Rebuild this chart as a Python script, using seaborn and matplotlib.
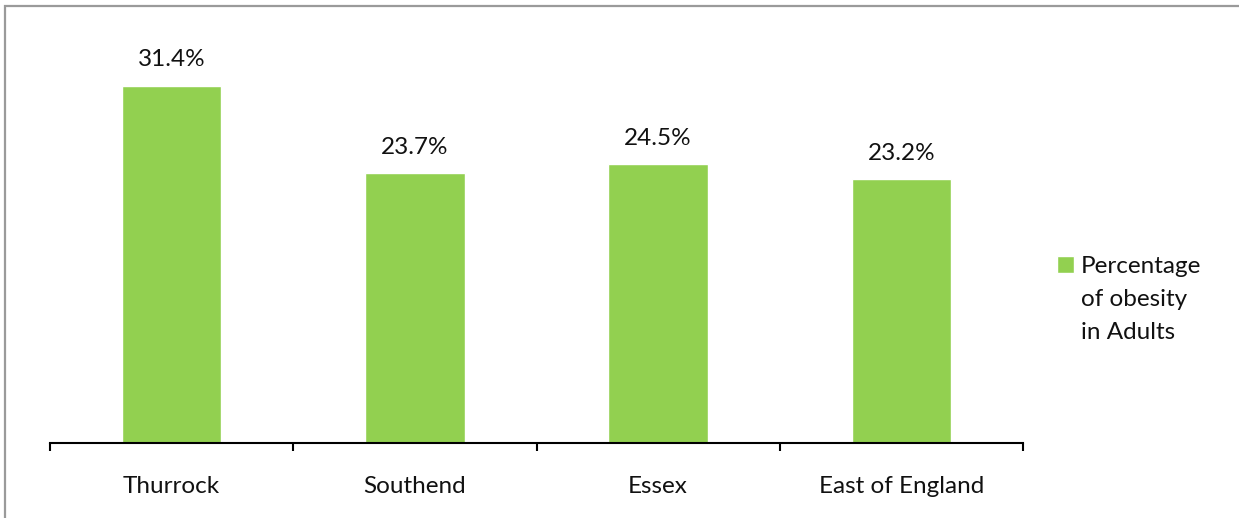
import matplotlib
matplotlib.use("Agg")
import matplotlib.pyplot as plt
import matplotlib.patches as mpatches
import seaborn as sns
import pandas as pd
import numpy as np

# Adult obesity by area
areas = ["Thurrock", "Southend", "Essex", "East of England"]
obesity_pct = [31.4, 23.7, 24.5, 23.2]
series_name = "Percentage\nof obesity\nin Adults"

BAR_GREEN = "#92D050"
TEXT = "#111111"
FS = 17.5

sns.set_theme(style="white")
plt.rcParams["font.family"] = ["Lato", "DejaVu Sans"]

df = pd.DataFrame({"area": areas, "pct": obesity_pct, "series": series_name})

fig = plt.figure(figsize=(12.39, 5.18), dpi=100)
ax = fig.add_axes([50 / 1239, 75 / 518, 973 / 1239, 398 / 518])

sns.barplot(data=df, x="area", y="pct", hue="series", palette=[BAR_GREEN],
            width=0.41, saturation=1, ax=ax, legend=True)

ax.set_xlim(-0.5, len(areas) - 0.5)
ax.set_ylim(0, 35)
ax.set_xlabel("")
ax.set_ylabel("")
ax.set_yticks([])

for s in ["top", "right", "left"]:
    ax.spines[s].set_visible(False)
ax.spines["bottom"].set_color("black")
ax.spines["bottom"].set_linewidth(1.5)

# category labels centred, tick marks on category boundaries
ax.set_xticks(range(len(areas)))
ax.set_xticklabels(areas, fontsize=FS, color=TEXT)
ax.tick_params(axis="x", which="major", length=0, pad=23.5)
ax.set_xticks(np.arange(-0.5, len(areas), 1.0), minor=True)
ax.tick_params(axis="x", which="minor", length=6, width=1.5, color="black",
               direction="out", bottom=True)

# value labels above bars
for i, v in enumerate(obesity_pct):
    ax.annotate(f"{v:.1f}%", xy=(i, v), xytext=(0, 14), textcoords="offset points",
                ha="center", va="baseline", fontsize=FS, color=TEXT)

# legend on the right
handles, labels = ax.get_legend_handles_labels()
leg = ax.legend(handles, labels, loc="upper left", bbox_to_anchor=(1057 / 1239, (518 - 256) / 518),
                bbox_transform=fig.transFigure, frameon=False, fontsize=FS,
                handlelength=0.68, handleheight=0.68, handletextpad=0.3,
                borderpad=0, borderaxespad=0)
for t in leg.get_texts():
    t.set_color(TEXT)
    t.set_linespacing(1.72)
# square marker sits beside the first line of the label
for column in leg._legend_handle_box.get_children():
    for item in column.get_children():
        item.align = "top"

# page frame around the chart
fig.patches.append(mpatches.Rectangle((5 / 1239, -0.1), 1.2, (518 - 6) / 518 + 0.1,
                                      transform=fig.transFigure, fill=False,
                                      edgecolor="#9A9A9A", linewidth=1.6, zorder=0))

fig.savefig("out.png", dpi=100, facecolor="white")
